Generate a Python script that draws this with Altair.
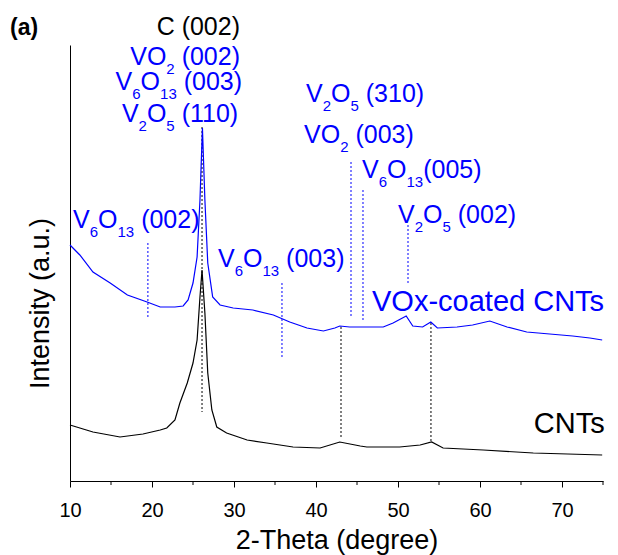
import re
import altair as alt
import pandas as pd

# ---- data (2-Theta in degrees, intensity in a.u.) ----
vox_theta = [10.0, 11.2, 12.8, 14.9, 17.0, 19.4, 21.0, 22.8, 23.8, 24.4, 25.0, 25.5, 25.85,
             26.15, 26.45, 26.8, 27.4, 28.3, 29.9, 32.3, 34.8, 36.8, 38.9, 40.9, 42.3, 42.9,
             44.1, 46.2, 48.2, 49.4, 51.0, 51.8, 53.0, 54.0, 54.8, 57.2, 59.1, 61.2, 63.3,
             65.7, 68.5, 71.3, 73.4, 74.9]
vox_int = [236, 226, 209, 198, 186, 179, 174, 174, 175, 181, 198, 224, 281,
           353, 281, 218, 184, 176, 173, 171, 166, 159, 153, 150, 153, 155,
           154, 154, 154, 158, 165, 155, 154, 159, 153, 154, 156, 160, 154,
           149, 147, 145, 143, 141]

cnt_theta = [10.0, 12.8, 16.1, 18.9, 21.0, 21.8, 22.8, 23.4, 24.3, 25.0, 25.5, 25.85, 26.1,
             26.45, 26.8, 27.3, 27.9, 29.1, 31.6, 34.0, 37.2, 40.5, 42.9, 45.4, 46.2, 50.2,
             52.7, 54.1, 55.5, 60.4, 66.5, 74.9]
cnt_int = [56, 49, 44, 47, 51, 53, 61, 78, 98, 118, 141, 184, 211,
           168, 108, 71, 54, 48, 41, 38, 34, 33, 39, 35, 34, 34,
           36, 39, 33, 31, 28, 26]

x_major = [10, 20, 30, 40, 50, 60, 70]
x_minor = [15, 25, 35, 45, 55, 65, 75]

blue_mark_theta = [19.5, 35.85, 44.27, 45.73, 51.22]
blue_mark_top = [238, 198, 319, 291, 256]
blue_mark_bottom = [163, 124, 163, 159, 198]

black_mark_theta = [26.1, 43.05, 54.02]
black_mark_top = [354, 154, 158]
black_mark_bottom = [69, 43, 39]

# labels: "_{..}" marks a subscript
label_text = ["C (002)", "VO_{2} (002)", "V_{6}O_{13} (003)", "V_{2}O_{5} (110)", "CNTs",
              "V_{6}O_{13} (002)", "V_{6}O_{13} (003)", "V_{2}O_{5} (310)", "VO_{2} (003)",
              "V_{6}O_{13}(005)", "V_{2}O_{5} (002)", "VOx-coated CNTs"]
label_theta = [30.73, 30.73, 30.98, 30.73, 75.6,
               10.37, 28.05, 38.78, 38.54, 45.61, 50.0, 46.83]
label_y = [446, 416, 391, 359, 48,
           253, 214, 379, 338, 303, 258, 170]
label_align = ["right", "right", "right", "right", "right",
               "left", "left", "left", "left", "left", "left", "left"]
label_color = ["black", "blue", "blue", "blue", "black",
               "blue", "blue", "blue", "blue", "blue", "blue", "blue"]
label_size = [25, 25, 25, 25, 29, 25, 25, 25, 25, 25, 25, 29]

FONT = "Liberation Sans"
BLUE = "#0000ff"
PX_PER_DEG = 533 / 65.0
SUB_SCALE = 0.6
SUB_DROP = 9

# Arial / Liberation Sans advance widths (per em)
W = {"V": 0.667, "O": 0.778, "C": 0.722, "N": 0.722, "T": 0.611, "x": 0.5, "c": 0.5,
     "o": 0.556, "a": 0.556, "t": 0.278, "e": 0.556, "d": 0.556, "s": 0.5, "-": 0.333,
     " ": 0.278, "(": 0.333, ")": 0.333}


def text_width(s, size):
    return sum(W.get(ch, 0.556) for ch in s) * size


pieces = []
for txt, th, yy, al, col, sz in zip(label_text, label_theta, label_y, label_align,
                                    label_color, label_size):
    parts = []
    for m in re.finditer(r"_\{([^}]*)\}|([^_]+)", txt):
        if m.group(1) is not None:
            parts.append((m.group(1), True))
        else:
            parts.append((m.group(2), False))
    widths = [text_width(p, sz * SUB_SCALE if sub else sz) for p, sub in parts]
    total = sum(widths)
    start = th - (total / PX_PER_DEG if al == "right" else 0)
    off = 0.0
    for (p, sub), w in zip(parts, widths):
        fs = sz * SUB_SCALE if sub else sz
        lead = len(p) - len(p.lstrip(" "))
        pieces.append({"text": p.strip(" "),
                       "theta": start + (off + lead * W[" "] * fs) / PX_PER_DEG,
                       "y": yy - (SUB_DROP if sub else 0),
                       "size": fs, "color": col})
        off += w

curves = pd.concat([
    pd.DataFrame({"theta": vox_theta, "intensity": vox_int, "series": "VOx-coated CNTs"}),
    pd.DataFrame({"theta": cnt_theta, "intensity": cnt_int, "series": "CNTs"}),
])
blue_marks = pd.DataFrame({"theta": blue_mark_theta, "top": blue_mark_top, "bottom": blue_mark_bottom})
black_marks = pd.DataFrame({"theta": black_mark_theta, "top": black_mark_top, "bottom": black_mark_bottom})
labels = pd.DataFrame(pieces)
minor = pd.DataFrame({"theta": x_minor})

xscale = alt.Scale(domain=[10, 75], nice=False, zero=False)
yscale = alt.Scale(domain=[0, 436], nice=False, zero=False)

xaxis = alt.Axis(values=x_major, title="2-Theta (degree)", grid=False, labelFlush=False,
                 domainColor="black", tickColor="black", tickSize=6,
                 labelFont=FONT, labelFontSize=20, labelColor="black", labelPadding=13,
                 titleFont=FONT, titleFontSize=27, titleFontWeight="normal", titleColor="black",
                 titleBaseline="alphabetic", titleY=67)
yaxis = alt.Axis(title="Intensity (a.u.)", grid=False, labels=False, ticks=False,
                 domainColor="black",
                 titleFont=FONT, titleFontSize=27, titleFontWeight="normal", titleColor="black",
                 titleBaseline="alphabetic", titleAngle=270, titleAlign="center",
                 titleX=-22, titleY=258)

lines = alt.Chart(curves).mark_line(strokeWidth=1.2).encode(
    x=alt.X("theta:Q", scale=xscale, axis=xaxis),
    y=alt.Y("intensity:Q", scale=yscale, axis=yaxis),
    color=alt.Color("series:N", scale=alt.Scale(domain=["VOx-coated CNTs", "CNTs"],
                                                range=[BLUE, "black"]), legend=None),
)

bmarks = alt.Chart(blue_marks).mark_rule(color=BLUE, strokeDash=[2, 2], strokeWidth=1).encode(
    x="theta:Q", y="top:Q", y2="bottom:Q")
kmarks = alt.Chart(black_marks).mark_rule(color="black", strokeDash=[2, 2], strokeWidth=1).encode(
    x="theta:Q", y="top:Q", y2="bottom:Q")

minor_ticks = alt.Chart(minor).mark_rule(color="black", strokeWidth=1).encode(
    x="theta:Q", y=alt.value(436), y2=alt.value(440))

texts = alt.Chart(labels).mark_text(align="left", baseline="alphabetic", font=FONT).encode(
    x="theta:Q", y="y:Q", text="text:N",
    color=alt.Color("color:N", scale=None), size=alt.Size("size:Q", scale=None))

panel = alt.Chart(pd.DataFrame({"t": ["(a)"]})).mark_text(
    align="left", baseline="alphabetic", font=FONT, fontSize=23, fontWeight="bold",
    color="black").encode(x=alt.value(-60), y=alt.value(-10), text="t:N")

chart = alt.layer(bmarks, kmarks, lines, minor_ticks, texts, panel).properties(
    width=533, height=436,
    autosize=alt.AutoSizeParams(type="none"),
    padding={"left": 62, "top": 37, "right": 7, "bottom": 80},
).configure_view(stroke=None)

chart.save("out.html", embed_options={"renderer": "svg", "actions": False})
